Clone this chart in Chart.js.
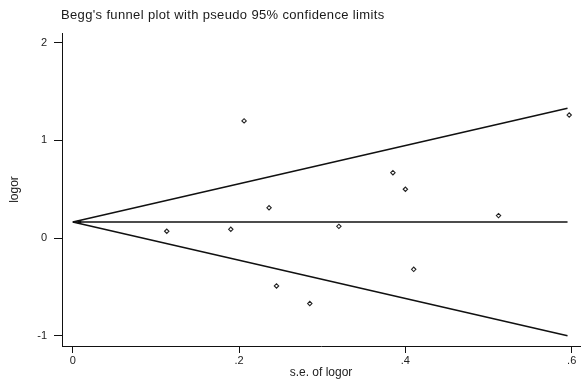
<!DOCTYPE html>
<html>
<head>
<meta charset="utf-8">
<script src="https://cdn.jsdelivr.net/npm/chart.js@4/dist/chart.umd.min.js"></script>
<style>
  html, body { margin: 0; padding: 0; background: #ffffff; }
  #wrap { width: 587px; height: 388px; position: relative; }
</style>
</head>
<body>
<div id="wrap"><canvas id="c"></canvas></div>
<script>
// ---- data ----
const chartTitle = "Begg's funnel plot with pseudo 95% confidence limits";
const xAxisTitle = "s.e. of logor";
const yAxisTitle = "logor";

// study points: standard error and log odds ratio
const seValues    = [0.113, 0.190, 0.206, 0.236, 0.245, 0.285, 0.320, 0.385, 0.400, 0.410, 0.512, 0.597];
const logorValues = [0.07,  0.09,  1.20,  0.31, -0.49, -0.67,  0.12,  0.67,  0.50, -0.32,  0.23,  1.26];

// funnel (pseudo 95% limits) and pooled estimate, endpoints
const funnelSe     = [0.000, 0.595];
const upperLimit   = [0.165, 1.33];
const lowerLimit   = [0.165, -1.00];
const pooledLine   = [0.165, 0.165];
const pooledMarkSe = [0.008];
const pooledMarkY  = [0.165];

// ticks
const xTicks = [0, 0.2, 0.4, 0.6];
const xTickLabels = ["0", ".2", ".4", ".6"];
const yTicks = [-1, 0, 1, 2];
const yTickLabels = ["-1", "0", "1", "2"];

// ---- build ----
const toPts = (xs, ys) => xs.map((x, i) => ({ x: x, y: ys[i] }));

const titlePlugin = {
  id: 'stataTitle',
  afterDraw(chart) {
    const ctx = chart.ctx;
    ctx.save();
    ctx.font = '13px "Liberation Sans", Arial, sans-serif';
    if ('letterSpacing' in ctx) ctx.letterSpacing = '0.35px';
    ctx.fillStyle = '#1a1a1a';
    ctx.textAlign = 'left';
    ctx.textBaseline = 'middle';
    ctx.fillText(chartTitle, 61, 15);
    ctx.restore();
  }
};

const lineDs = (label, ys) => ({
  label: label,
  data: toPts(funnelSe, ys),
  showLine: true,
  borderColor: '#111111',
  borderWidth: 1.6,
  pointRadius: 0,
  fill: false
});

new Chart(document.getElementById('c'), {
  type: 'scatter',
  data: {
    datasets: [
      lineDs('Upper limit', upperLimit),
      lineDs('Lower limit', lowerLimit),
      lineDs('Pooled', pooledLine),
      {
        label: 'Pooled marker',
        data: toPts(pooledMarkSe, pooledMarkY),
        pointStyle: 'rect',
        pointRadius: 2.5,
        backgroundColor: '#111111',
        borderColor: '#111111',
        borderWidth: 0
      },
      {
        label: 'Studies',
        data: toPts(seValues, logorValues),
        pointStyle: 'rectRot',
        pointRadius: 2.2,
        backgroundColor: '#ffffff',
        borderColor: '#222222',
        borderWidth: 1.1
      }
    ]
  },
  options: {
    responsive: true,
    maintainAspectRatio: false,
    animation: false,
    layout: { padding: { left: 0, right: 7, top: 33, bottom: 0 } },
    plugins: {
      legend: { display: false },
      tooltip: { enabled: false },
      title: { display: false }
    },
    scales: {
      x: {
        type: 'linear',
        min: -0.013,
        max: 0.61,
        afterBuildTicks: (s) => { s.ticks = xTicks.map(v => ({ value: v })); },
        afterFit: (s) => { s.height = 42; },
        ticks: {
          callback: (v) => { const i = xTicks.indexOf(v); return i >= 0 ? xTickLabels[i] : ''; },
          font: { family: '"Liberation Sans", Arial, sans-serif', size: 11 },
          color: '#222222',
          padding: 1,
          maxRotation: 0,
          autoSkip: false
        },
        grid: { display: true, drawOnChartArea: false, drawTicks: true, tickLength: 7, color: '#111111', lineWidth: 1 },
        border: { display: true, color: '#111111', width: 1 },
        title: {
          display: true,
          text: xAxisTitle,
          font: { family: '"Liberation Sans", Arial, sans-serif', size: 12 },
          color: '#222222',
          padding: { top: 0, bottom: 8 }
        }
      },
      y: {
        type: 'linear',
        min: -1.105,
        max: 2.10,
        afterBuildTicks: (s) => { s.ticks = yTicks.map(v => ({ value: v })); },
        afterFit: (s) => { s.width = 62; },
        ticks: {
          callback: (v) => { const i = yTicks.indexOf(v); return i >= 0 ? yTickLabels[i] : ''; },
          font: { family: '"Liberation Sans", Arial, sans-serif', size: 11 },
          color: '#222222',
          padding: 7,
          autoSkip: false
        },
        grid: { display: true, drawOnChartArea: false, drawTicks: true, tickLength: 8, color: '#111111', lineWidth: 1 },
        border: { display: true, color: '#111111', width: 1 },
        title: {
          display: true,
          text: yAxisTitle,
          font: { family: '"Liberation Sans", Arial, sans-serif', size: 12 },
          color: '#222222',
          padding: { top: 7, bottom: 0 }
        }
      }
    }
  },
  plugins: [titlePlugin]
});
</script>
</body>
</html>
